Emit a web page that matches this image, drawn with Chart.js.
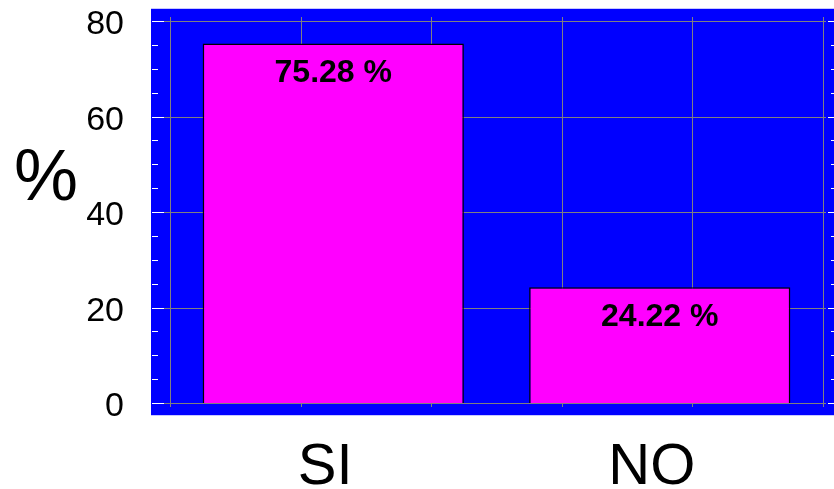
<!DOCTYPE html>
<html>
<head>
<meta charset="utf-8">
<script src="https://cdn.jsdelivr.net/npm/chart.js@4/dist/chart.umd.min.js"></script>
<style>
  html, body { margin: 0; padding: 0; background: #fff; }
  #wrap { width: 834px; height: 489px; position: relative; }
</style>
</head>
<body>
<div id="wrap"><canvas id="respuestaChart" width="834" height="489"></canvas></div>
<script>
const categorias = ['SI', 'NO'];
const porcentajes = [75.28, 24.22];
const yTicks = [0, 20, 40, 60, 80];
const divisionesX = 5;

const FONT = '"Liberation Sans", Arial, sans-serif';

// fondo azul, rejilla gris y marcas blancas del eje
const panelPlugin = {
    id: 'panel',
    beforeDatasetsDraw(chart) {
        const { ctx, chartArea, scales } = chart;
        const y = scales.y;
        const x = scales.x;
        ctx.save();
        ctx.fillStyle = '#0000ff';
        ctx.fillRect(151, 9, 834 - 151, 416 - 9);
        ctx.fillStyle = '#c8c8ff';
        ctx.fillRect(151, 8, 834 - 151, 1);
        ctx.fillRect(151, 415, 834 - 151, 1);

        ctx.strokeStyle = '#808080';
        ctx.lineWidth = 1;
        // lineas horizontales
        yTicks.forEach((v) => {
            const py = Math.round(y.getPixelForValue(v)) + 0.5;
            ctx.beginPath();
            ctx.moveTo(164, py);
            ctx.lineTo(chartArea.right + 3, py);
            ctx.stroke();
        });
        // lineas verticales, repartidas sobre el eje de categorias
        for (let i = 0; i <= divisionesX; i++) {
            const px = Math.round(x.left + x.width * i / divisionesX) + 0.5;
            ctx.beginPath();
            ctx.moveTo(px, chartArea.top - 4);
            ctx.lineTo(px, chartArea.bottom + 4);
            ctx.stroke();
        }
        // marcas blancas (mayores cada 20, menores cada 5)
        ctx.strokeStyle = '#ffffff';
        for (let v = 0; v <= 80; v += 5) {
            const py = Math.round(y.getPixelForValue(v)) + 0.5;
            const mayor = v % 20 === 0;
            ctx.beginPath();
            ctx.moveTo(152, py);
            ctx.lineTo(152 + (mayor ? 12 : 6), py);
            ctx.stroke();
            ctx.beginPath();
            ctx.moveTo(834 - (mayor ? 6 : 3), py);
            ctx.lineTo(834, py);
            ctx.stroke();
        }
        ctx.restore();
    },
    afterDatasetsDraw(chart) {
        const { ctx } = chart;
        const meta = chart.getDatasetMeta(0);
        ctx.save();
        ctx.fillStyle = '#000';
        ctx.font = 'bold 32px ' + FONT;
        ctx.textAlign = 'center';
        ctx.textBaseline = 'middle';
        meta.data.forEach((bar, i) => {
            ctx.fillText(porcentajes[i].toFixed(2) + ' %', bar.x, bar.y + 30);
        });
        ctx.restore();
    },
    afterDraw(chart) {
        const { ctx } = chart;
        ctx.save();
        ctx.fillStyle = '#000';
        ctx.font = '72px ' + FONT;
        ctx.textAlign = 'center';
        ctx.textBaseline = 'middle';
        ctx.fillText('%', 46, 180);
        ctx.restore();
    }
};

new Chart(document.getElementById('respuestaChart'), {
    type: 'bar',
    data: {
        labels: categorias,
        datasets: [{
            data: porcentajes,
            backgroundColor: '#ff00ff',
            borderColor: '#000000',
            borderWidth: 1.5,
            barPercentage: 0.8,
            categoryPercentage: 1.0,
        }],
    },
    options: {
        responsive: false,
        animation: false,
        layout: { padding: { top: 21, right: 11, left: 0, bottom: 0 } },
        plugins: {
            legend: { display: false },
            tooltip: { enabled: false },
        },
        scales: {
            x: {
                grid: { display: false, drawTicks: false },
                border: { display: false },
                ticks: {
                    color: '#000',
                    font: { family: FONT, size: 58 },
                    padding: 30,
                    labelOffset: -8,
                },
                afterFit: (s) => { s.height = 86; },
            },
            y: {
                min: 0,
                max: 80,
                grid: { display: false, drawTicks: false },
                border: { display: false },
                ticks: {
                    stepSize: 20,
                    color: '#000',
                    font: { family: FONT, size: 34 },
                    padding: 46,
                    labelOffset: 4,
                },
                afterFit: (s) => {
                    s.width = 170;
                    s.paddingTop = 0;
                    s.paddingBottom = 0;
                },
            },
        },
    },
    plugins: [panelPlugin],
});
</script>
</body>
</html>
